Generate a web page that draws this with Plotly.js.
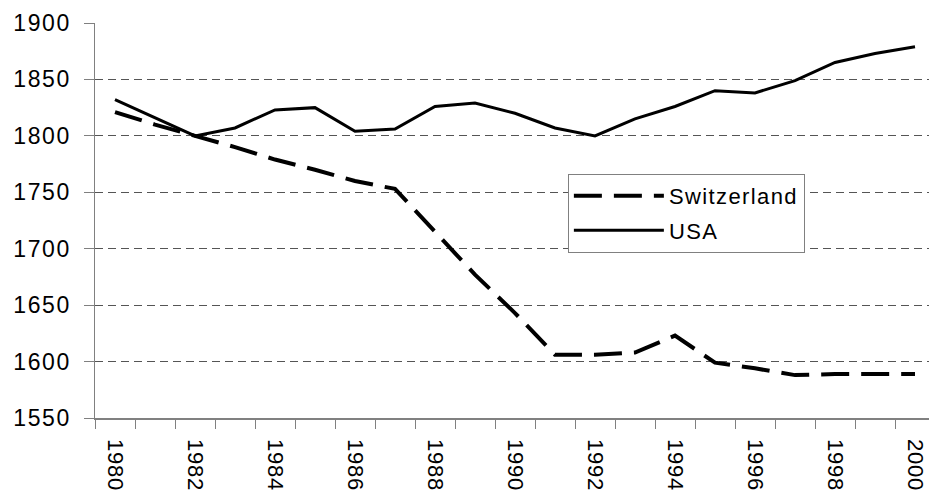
<!DOCTYPE html>
<html>
<head>
<meta charset="utf-8">
<script src="https://cdn.plot.ly/plotly-3.0.1.min.js"></script>
<style>
html, body { margin: 0; padding: 0; background: #fff; }
#chart { width: 929px; height: 497px; }
.ytick text { letter-spacing: 1.6px; }
.xtick text { letter-spacing: 0.8px; }
.legendtext { letter-spacing: 1.4px; }
</style>
</head>
<body>
<div id="chart"></div>
<script>
const years = [1980,1981,1982,1983,1984,1985,1986,1987,1988,1989,1990,1991,1992,1993,1994,1995,1996,1997,1998,1999,2000];
const switzerland = [1821,1810,1800,1790,1779,1770,1760,1753,1715,1677,1643,1606,1606,1608,1623,1599,1594,1588,1589,1589,1589];
const usa = [1832,1816,1800,1807,1823,1825,1804,1806,1826,1829,1820,1807,1800,1815,1826,1840,1838,1849,1865,1873,1879];
const xTickLabels = ['1980','1982','1984','1986','1988','1990','1992','1994','1996','1998','2000'];
const xTickVals = xTickLabels.map(Number);
const yTicks = [1550,1600,1650,1700,1750,1800,1850,1900];

const traces = [
  {x: years, y: switzerland, name: 'Switzerland', type: 'scatter', mode: 'lines',
   legendgroup: 'a',
   line: {color: '#000', width: 4, dash: '28px,12px'}},
  {x: years, y: usa, name: 'USA', type: 'scatter', mode: 'lines',
   legendgroup: 'b',
   line: {color: '#000', width: 3}}
];

const layout = {
  width: 929, height: 497,
  margin: {l: 95, r: 0, t: 22.7, b: 78.7},
  paper_bgcolor: '#fff', plot_bgcolor: '#fff',
  font: {family: 'Liberation Sans, Arial, sans-serif', color: '#000', size: 23},
  showlegend: true,
  legend: {
    x: 0.567, y: 0.618, xanchor: 'left', yanchor: 'top',
    bordercolor: '#808080', borderwidth: 1, bgcolor: '#fff',
    font: {size: 22, color: '#000'},
    itemwidth: 90, traceorder: 'grouped', tracegroupgap: 3
  },
  xaxis: {
    type: 'linear', range: [1979.5, 2000.35],
    tickmode: 'array', tickvals: xTickVals, ticktext: xTickLabels,
    tickangle: 90, ticks: 'outside', ticklen: 0, tickcolor: '#808080',
    ticklabelstandoff: 15,
    showgrid: false, zeroline: false,
    showline: true, linecolor: '#808080', linewidth: 1.5,
    minor: {tickmode: 'linear', tick0: 1979.5, dtick: 1, ticks: 'outside', ticklen: 9, tickcolor: '#808080', tickwidth: 1, showgrid: false},
    tickfont: {size: 22, color: '#000'}
  },
  yaxis: {
    range: [1550, 1900], tickmode: 'array', tickvals: yTicks,
    ticks: 'outside', ticklen: 10, tickcolor: '#808080', tickwidth: 1,
    ticklabelstandoff: 8,
    showgrid: true, gridcolor: '#555', gridwidth: 1, griddash: '8px,5px',
    zeroline: false, showline: true, linecolor: '#808080', linewidth: 1.5,
    tickfont: {size: 23, color: '#000'}
  }
};

Plotly.newPlot('chart', traces, layout, {displayModeBar: false, staticPlot: true});
</script>
</body>
</html>
